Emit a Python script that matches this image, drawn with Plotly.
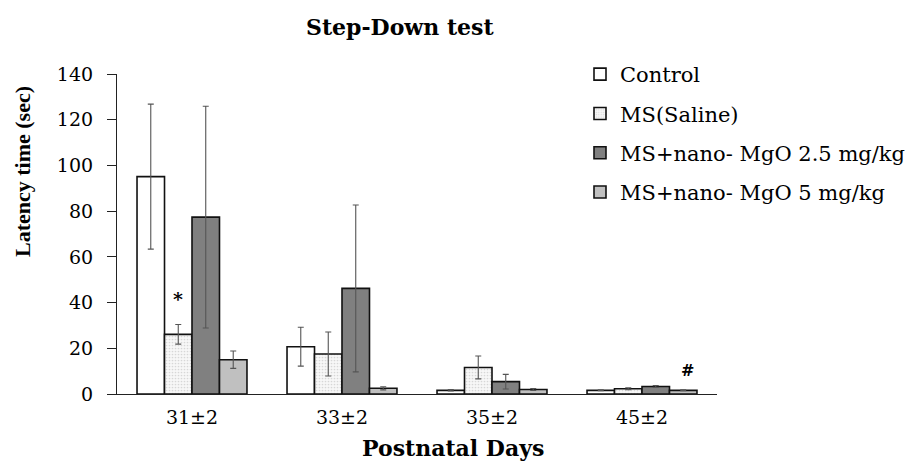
import plotly.graph_objects as go

categories = ["31±2", "33±2", "35±2", "45±2"]
series_names = ["Control", "MS(Saline)", "MS+nano- MgO 2.5 mg/kg", "MS+nano- MgO 5 mg/kg"]
control = [95.1, 20.7, 1.6, 1.6]
control_err = [31.7, 8.5, 0.3, 0.2]
ms_saline = [26.1, 17.5, 11.6, 2.3]
ms_saline_err = [4.3, 9.6, 5.0, 0.4]
mgo_25 = [77.4, 46.2, 5.4, 3.3]
mgo_25_err = [48.5, 36.5, 3.2, 0.4]
mgo_5 = [15.0, 2.5, 2.0, 1.6]
mgo_5_err = [3.8, 0.7, 0.4, 0.2]
y_ticks = [0, 20, 40, 60, 80, 100, 120, 140]

values = [control, ms_saline, mgo_25, mgo_5]
errors = [control_err, ms_saline_err, mgo_25_err, mgo_5_err]
fills = ["#ffffff", "#f4f4f4", "#808080", "#c0c0c0"]

SERIF = "DejaVu Serif, serif"
TIMES = "Liberation Serif, Times New Roman, serif"

L, R, T, B = 117, 202, 74, 67
W, H = 919, 461
PW, PH = W - L - R, H - T - B


def px_to_paper(xp, yp):
    return (xp - L) / PW, 1 - (yp - T) / PH


fig = go.Figure()
for i, (name, v, e, c) in enumerate(zip(series_names, values, errors, fills)):
    marker = dict(color=c, line=dict(color="#111111", width=1.6))
    if i == 1:
        marker["pattern"] = dict(shape=".", fgcolor="#b8b8b8", bgcolor="#f7f7f7", size=3, solidity=0.25)
    fig.add_trace(go.Bar(
        x=categories, y=v, name=name, legendgroup=name,
        marker=marker,
        error_y=dict(type="data", array=e, visible=True, color="#555555", thickness=1.1, width=3),
    ))

# significance marks
fig.add_annotation(x=-0.093, y=41.5, xref="x", yref="y", text="<b>*</b>", showarrow=False,
                   font=dict(family=SERIF, size=19, color="black"))
fig.add_annotation(x=3.3, y=10.5, xref="x", yref="y", text="<b>#</b>", showarrow=False,
                   font=dict(family=SERIF, size=16, color="black"))

# chart title
tx, ty = px_to_paper(400, 27)
fig.add_annotation(x=tx, y=ty, xref="paper", yref="paper", text="<b>Step-Down test</b>", showarrow=False,
                   xanchor="center", yanchor="middle", font=dict(family=SERIF, size=22, color="black"))
# x-axis title (offset to the right as in the reference)
ax, ay = px_to_paper(453, 448)
fig.add_annotation(x=ax, y=ay, xref="paper", yref="paper", text="<b>Postnatal Days</b>", showarrow=False,
                   xanchor="center", yanchor="middle", font=dict(family=SERIF, size=22, color="black"))
# y-axis title (placed higher than the plot centre, as in the reference)
yx, yy = px_to_paper(22, 172)
fig.add_annotation(x=yx, y=yy, xref="paper", yref="paper", text="<b>Latency time (sec)</b>", showarrow=False,
                   textangle=-90, xanchor="center", yanchor="middle",
                   font=dict(family=TIMES, size=22, color="black"))

lx, ly = px_to_paper(580, 54)
fig.update_layout(
    width=W, height=H,
    margin=dict(l=L, r=R, t=T, b=B, autoexpand=False),
    paper_bgcolor="white", plot_bgcolor="white",
    barmode="group", bargap=0.267, bargroupgap=0,
    showlegend=True,
    legend=dict(x=lx, y=ly, xanchor="left", yanchor="top",
                font=dict(family=SERIF, size=21, color="black"),
                tracegroupgap=9, bgcolor="rgba(0,0,0,0)", itemwidth=30),
    font=dict(family=SERIF, color="black"),
)

fig.update_xaxes(
    automargin=False,
    showline=True, linecolor="#222222", linewidth=1.2,
    ticks="outside", ticklen=6, tickcolor="rgba(0,0,0,0)",
    tickfont=dict(family=SERIF, size=19, color="black"),
)
fig.update_yaxes(
    automargin=False,
    range=[0, 140], tickvals=y_ticks, showgrid=False, zeroline=False,
    showline=True, linecolor="#222222", linewidth=1.2,
    ticks="outside", ticklen=9, tickcolor="#222222",
    ticklabelstandoff=10,
    tickfont=dict(family=SERIF, size=19, color="black"),
)

fig.write_html("out.html", config={"displayModeBar": False},
               post_script="document.body.style.margin='0px';document.body.style.overflow='hidden';")
